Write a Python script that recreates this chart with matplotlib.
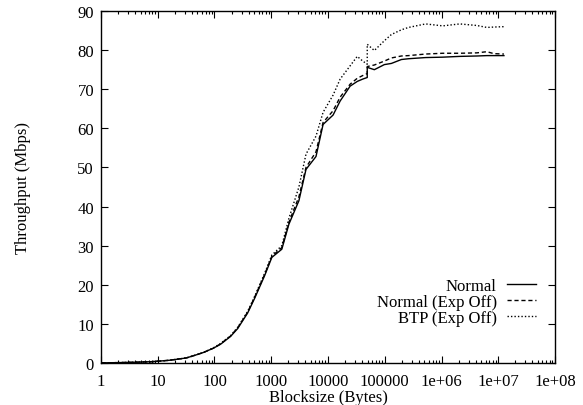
import matplotlib
matplotlib.use("Agg")
import matplotlib.pyplot as plt
from matplotlib.ticker import LogLocator, FixedLocator, FixedFormatter, NullFormatter

plt.rcParams['font.family'] = ['Liberation Serif', 'DejaVu Serif']
plt.rcParams['font.size'] = 12

# block sizes (bytes) -- the jump near 49152 is a repeated x
sizes = [1, 2, 4, 8, 16, 32, 48, 64, 96, 128, 192, 256, 384, 512, 768, 1024,
         1536, 2048, 3072, 4096, 6144, 8192, 12288, 16384, 24576, 32768, 40960,
         49152, 49152, 65536, 98304, 131072, 196608, 262144, 524288, 1048576,
         2097152, 4194304, 6291456, 8388608, 12582912]

normal = [0.05, 0.1, 0.2, 0.35, 0.7, 1.3, 2.1, 2.7, 3.8, 4.8, 6.8, 8.8, 12.8,
          16.6, 22.4, 27.0, 29.1, 35.5, 41.5, 49.5, 52.8, 61.0, 63.4, 67.0, 70.8,
          72.0, 72.6, 73.0, 75.6, 75.0, 76.3, 76.6, 77.6, 77.8, 78.1, 78.2, 78.4,
          78.5, 78.6, 78.6, 78.6]

normal_exp_off = [0.05, 0.1, 0.2, 0.35, 0.7, 1.3, 2.1, 2.7, 3.8, 4.9, 6.9, 9.0,
                  13.0, 16.9, 22.7, 27.3, 29.5, 36.0, 42.5, 50.0, 54.0, 61.5, 64.5,
                  68.0, 71.3, 72.8, 73.5, 74.0, 75.8, 76.2, 77.2, 78.0, 78.5, 78.6,
                  79.0, 79.2, 79.2, 79.3, 79.6, 79.1, 79.0]

btp_exp_off = [0.05, 0.1, 0.2, 0.35, 0.7, 1.3, 2.1, 2.7, 3.9, 5.0, 7.0, 9.1,
               13.2, 17.1, 23.0, 27.6, 30.0, 37.0, 45.0, 53.4, 58.0, 64.1, 68.5,
               72.6, 76.0, 78.4, 77.2, 76.4, 81.5, 79.9, 82.4, 84.0, 85.2, 85.8,
               86.7, 86.2, 86.7, 86.3, 85.8, 85.9, 86.0]

xticks = [1, 10, 100, 1000, 10000, 100000, 1e6, 1e7, 1e8]
xticklabels = ['1', '10', '100', '1000', '10000', '100000', '1e+06', '1e+07', '1e+08']
yticks = [0, 10, 20, 30, 40, 50, 60, 70, 80, 90]

fig = plt.figure(figsize=(5.83, 4.06), dpi=100)
ax = fig.add_axes([0.1732, 0.1034, 0.7788, 0.867])

ax.plot(sizes, normal, color='black', lw=1.0, ls='-', label='Normal')
ax.plot(sizes, normal_exp_off, color='black', lw=1.0, ls=(0, (3, 2)),
        label='Normal (Exp Off)')
ax.plot(sizes, btp_exp_off, color='black', lw=1.0, ls=(0, (1, 1.5)),
        label='BTP (Exp Off)')

ax.set_xscale('log')
ax.set_xlim(1, 1e8)
ax.set_ylim(0, 90)
ax.xaxis.set_major_locator(FixedLocator(xticks))
ax.xaxis.set_major_formatter(FixedFormatter(xticklabels))
ax.xaxis.set_minor_locator(LogLocator(base=10, subs=range(2, 10), numticks=20))
ax.xaxis.set_minor_formatter(NullFormatter())
ax.set_yticks(yticks)

ax.tick_params(which='both', direction='in', top=True, right=True, width=0.8)
ax.tick_params(which='major', length=5, pad=5)
ax.tick_params(axis='x', which='major', pad=7)
ax.tick_params(which='minor', length=2.5)
for s in ax.spines.values():
    s.set_linewidth(1.0)

ax.set_xlabel('Blocksize (Bytes)', labelpad=0)
ax.set_ylabel('Throughput (Mbps)')
ax.yaxis.set_label_coords(-0.154, 0.5)

ax.legend(loc='lower right', bbox_to_anchor=(0.958, 0.106), frameon=False,
          markerfirst=False, handlelength=1.75, handletextpad=0.6,
          labelspacing=0.0, borderaxespad=0, borderpad=0)
leg = ax.get_legend()
for t in leg.get_texts():
    t.set_ha('right')
leg._legend_box.align = 'right'

fig.savefig('out.png', dpi=100)
